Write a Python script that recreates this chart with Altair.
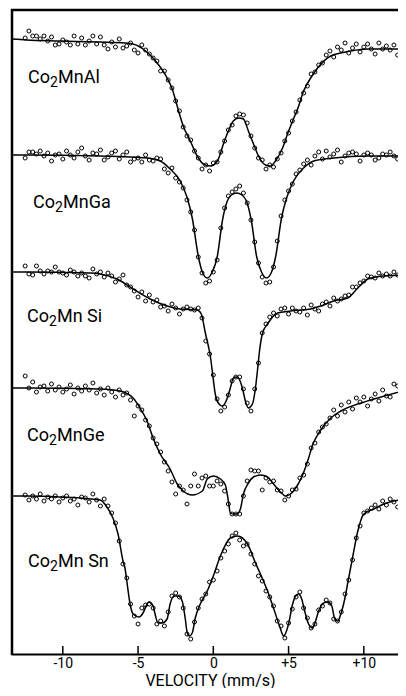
import altair as alt
import pandas as pd

# ---------------- data ----------------
SPECTRA = ["Co2MnAl", "Co2MnGa", "Co2MnSi", "Co2MnGe", "Co2MnSn"]
LABEL_TAIL = ["MnAl", "MnGa", "Mn Si", "MnGe", "Mn Sn"]
LABEL_V = [-12.31, -11.98, -12.38, -12.38, -12.31]
LABEL_Y = [571, 446, 332, 213, 87]
# vertical stacking offsets of each spectrum (arbitrary units)
OFFSETS = [613, 498, 383, 268, 158]
TICKS = [-10, -5, 0, 5, 10]
X_RANGE = [-13.375, 12.27]
Y_RANGE = [0, 644]

# velocity channels of the measured points (mm/s)
VELOCITY = [
    -12.5, -12.25, -12.0, -11.75, -11.5, -11.25, -11.0, -10.75, -10.5, -10.25,
    -10.0, -9.75, -9.5, -9.25, -9.0, -8.75, -8.5, -8.25, -8.0, -7.75,
    -7.5, -7.25, -7.0, -6.75, -6.5, -6.25, -6.0, -5.75, -5.5, -5.25,
    -5.0, -4.75, -4.5, -4.25, -4.0, -3.75, -3.5, -3.25, -3.0, -2.75,
    -2.5, -2.25, -2.0, -1.75, -1.5, -1.25, -1.0, -0.75, -0.5, -0.25,
    0.0, 0.25, 0.5, 0.75, 1.0, 1.25, 1.5, 1.75, 2.0, 2.25,
    2.5, 2.75, 3.0, 3.25, 3.5, 3.75, 4.0, 4.25, 4.5, 4.75,
    5.0, 5.25, 5.5, 5.75, 6.0, 6.25, 6.5, 6.75, 7.0, 7.25,
    7.5, 7.75, 8.0, 8.25, 8.5, 8.75, 9.0, 9.25, 9.5, 9.75,
    10.0, 10.25, 10.5, 10.75, 11.0, 11.25, 11.5, 11.75, 12.0, 12.25,
    12.5, 12.75,
]

# absorption (depth below each spectrum's reference level) of the measured points
AL_PTS = [
    -3, -10, -5, -5, -2, -5, 0, -4, 4, 3,
    -1, 1, 4, -5, 3, -3, 4, 0, -5, 3,
    -4, 4, 8, 1, 6, -2, 7, 5, 2, 9,
    12, 4, 9, 13, 17, 20, 30, 30, 39, 47,
    60, 70, 86, 95, 99, 110, 117, 128, 124, 130,
    122, 121, 111, 100, 89, 84, 75, 73, 74, 82,
    95, 107, 117, 119, 128, 124, 126, 118, 112, 100,
    92, 80, 71, 59, 52, 45, 33, 31, 24, 22,
    14, 10, 16, 6, 9, 2, 12, 7, 3, 11,
    6, 3, 8, 13, 2, 8, 5, 9, 4, 14,
    6, 4,
]
GA_PTS = [
    2, -4, -4, -2, -5, 0, -3, 5, -1, -2,
    3, -5, -1, 2, -4, -8, 0, 4, -3, -2,
    -6, 4, 1, -3, -5, 3, -1, -4, 6, 3,
    2, 6, -1, 4, 5, 2, 3, 13, 17, 12,
    22, 26, 32, 44, 56, 74, 101, 117, 127, 125,
    116, 104, 72, 52, 40, 36, 33, 30, 37, 47,
    64, 86, 107, 121, 127, 126, 111, 85, 60, 44,
    35, 28, 18, 14, 8, 4, 9, 0, -4, 3,
    -5, 1, -2, -6, 6, 0, -3, -4, -2, 5,
    -1, -3, -1, 4, 2, -2, -1, -4, 0, 3,
    -3, 1,
]
SI_PTS = [
    -5, 3, 4, -5, 0, 3, 0, 1, -4, 1,
    2, 4, -1, 1, 5, 2, 5, 7, -2, 3,
    1, 6, 2, 5, 11, 8, 4, 14, 16, 20,
    26, 21, 30, 24, 31, 29, 36, 35, 40, 33,
    37, 43, 38, 36, 38, 39, 37, 47, 70, 83,
    104, 128, 140, 136, 124, 110, 106, 106, 118, 132,
    140, 118, 92, 62, 53, 46, 42, 45, 38, 37,
    43, 37, 40, 41, 37, 44, 34, 38, 40, 33,
    31, 35, 27, 30, 28, 25, 24, 16, 16, 12,
    10, 5, 6, 7, 2, 5, 3, 5, 1, 4,
    2, 5,
]
GE_PTS = [
    -10, 2, -4, 6, 1, 0, 5, -2, 4, 1,
    6, 3, -1, 8, 2, 5, 0, 4, -3, 7,
    3, 9, 2, 6, 11, 4, 9, 7, 14, 30,
    20, 24, 34, 40, 52, 58, 66, 76, 85, 96,
    108, 100, 104, 118, 100, 88, 100, 92, 90, 100,
    100, 95, 98, 105, 118, 128, 128, 128, 110, 95,
    84, 85, 85, 104, 92, 96, 95, 104, 105, 114,
    110, 104, 103, 92, 89, 78, 62, 57, 46, 41,
    38, 32, 24, 30, 19, 26, 16, 23, 12, 16,
    11, 20, 13, 8, 15, 4, 10, 11, -2, 0,
    -10, 2,
]
SN_PTS = [
    -1, 4, 0, 3, -2, 5, 1, 3, 0, 6,
    2, 0, 5, 3, 9, 1, 2, 6, -2, 4,
    10, 3, 10, 17, 27, 45, 68, 82, 108, 120,
    128, 112, 109, 108, 112, 128, 125, 130, 116, 100,
    97, 101, 112, 138, 143, 126, 112, 103, 98, 86,
    84, 75, 62, 55, 48, 40, 37, 44, 50, 48,
    58, 68, 80, 85, 95, 101, 110, 125, 130, 142,
    127, 113, 101, 96, 112, 122, 132, 128, 114, 110,
    104, 107, 123, 125, 116, 98, 84, 64, 42, 30,
    17, 15, 12, 9, 13, 5, 9, 3, 6, 11,
    4, 2,
]

# fitted curves (velocity, absorption)
AL_FIT_V = [-13.35, -12.4, -10.2, -7.53, -5.87, -5.33, -4.87, -4.67, -4.2, -3.73,
            -3.07, -2.73, -2.4, -2.0, -1.53, -1.07, -0.67, -0.2, 0.27, 0.67,
            1.0, 1.33, 1.67, 2.0, 2.33, 2.67, 3.0, 3.47, 3.8, 4.13,
            4.6, 4.93, 5.27, 5.6, 6.0, 6.47, 6.93, 7.8, 9.13, 10.27, 12.8]
AL_FIT_D = [-2, -1, 0, 1, 2, 3, 6, 8, 14, 22,
            37, 48, 65, 85, 100, 115, 123, 125, 120, 103,
            90, 80, 77, 78, 90, 103, 115, 124, 125, 120,
            107, 93, 80, 68, 50, 37, 27, 15, 10, 8, 8]

GA_FIT_V = [-13.35, -12.4, -7.5, -4.4, -3.53, -2.87, -2.2, -1.73, -1.4, -1.0,
            -0.73, -0.4, -0.07, 0.27, 0.6, 0.93, 1.2, 1.55, 1.9, 2.2,
            2.53, 2.87, 3.2, 3.53, 3.87, 4.15, 4.53, 4.87, 5.33, 6.0,
            6.67, 8.0, 10.3, 12.8]
GA_FIT_D = [-1, -1, 0, 2, 5, 13, 25, 42, 62, 100,
            116, 122, 116, 100, 65, 45, 39, 37, 39, 45,
            65, 100, 116, 122, 116, 100, 62, 42, 25, 12,
            5, 2, 0, 0]

SI_FIT_V = [-13.35, -12.4, -8.2, -7.53, -6.4, -5.33, -4.2, -3.07, -2.2, -1.07,
            -0.8, -0.53, -0.33, -0.2, -0.07, 0.13, 0.33, 0.6, 0.93, 1.13,
            1.33, 1.5, 1.67, 1.93, 2.13, 2.33, 2.6, 2.8, 2.93, 3.07,
            3.27, 3.6, 4.27, 5.13, 6.47, 7.13, 8.0, 8.93, 9.6, 10.27,
            11.33, 12.8]
SI_FIT_D = [1, 1, 2, 3, 8, 18, 28, 35, 38, 39,
            43, 62, 75, 85, 100, 123, 132, 135, 127, 117,
            107, 106, 107, 117, 130, 137, 133, 117, 100, 80,
            62, 53, 42, 40, 38, 35, 30, 27, 17, 8,
            5, 4]

GE_FIT_V = [-13.35, -12.4, -7.53, -6.2, -5.33, -4.87, -4.4, -4.0, -3.53, -2.87,
            -2.4, -2.0, -1.4, -0.73, -0.4, 0.0, 0.47, 0.8, 1.0, 1.13,
            1.33, 1.53, 1.67, 1.8, 2.0, 2.33, 2.67, 3.13, 3.6, 4.0,
            4.6, 4.8, 5.13, 5.56, 5.96, 6.29, 6.62, 7.09, 7.8, 8.47,
            9.6, 10.67, 12.8]
GE_FIT_D = [2, 2, 3, 5, 12, 22, 35, 52, 68, 83,
            98, 105, 109, 105, 93, 90, 93, 99, 115, 127,
            128, 128, 127, 123, 108, 97, 91, 89, 91, 98,
            108, 110, 108, 100, 88, 74, 58, 45, 32, 25,
            18, 13, 4]

SN_FIT_V = [-13.35, -12.4, -10.2, -7.53, -7.07, -6.67, -6.33, -6.0, -5.87, -5.73,
            -5.53, -5.33, -4.93, -4.67, -4.4, -4.27, -4.0, -3.87, -3.67, -3.4,
            -3.07, -2.87, -2.6, -2.33, -2.07, -1.87, -1.73, -1.6, -1.4, -1.2,
            -0.87, -0.4, 0.0, 0.47, 1.13, 1.6, 2.27, 2.8, 3.13, 3.6,
            4.0, 4.4, 4.67, 5.0, 5.27, 5.47, 5.67, 5.87, 6.07, 6.33,
            6.6, 6.73, 7.0, 7.33, 7.6, 7.87, 8.07, 8.27, 8.47, 8.8,
            8.93, 9.27, 9.6, 10.0, 10.67, 11.33, 12.8]
SN_FIT_D = [0, 0, 1, 4, 11, 22, 38, 65, 72, 87,
            108, 118, 121, 117, 108, 106, 110, 118, 127, 127,
            123, 108, 100, 100, 105, 122, 137, 140, 137, 122,
            108, 95, 80, 60, 42, 40, 48, 67, 78, 95,
            112, 130, 140, 128, 108, 100, 98, 103, 115, 128,
            132, 128, 115, 107, 106, 110, 123, 125, 118, 98,
            87, 60, 35, 18, 13, 8, 3]

PTS = [AL_PTS, GA_PTS, SI_PTS, GE_PTS, SN_PTS]
FIT_V = [AL_FIT_V, GA_FIT_V, SI_FIT_V, GE_FIT_V, SN_FIT_V]
FIT_D = [AL_FIT_D, GA_FIT_D, SI_FIT_D, GE_FIT_D, SN_FIT_D]

# ---------------- tables ----------------
pts_rows, fit_rows = [], []
for name, off, pts, fv, fd in zip(SPECTRA, OFFSETS, PTS, FIT_V, FIT_D):
    for v, d in zip(VELOCITY, pts):
        pts_rows.append({"spectrum": name, "velocity": v, "signal": off - d})
    for v, d in zip(fv, fd):
        fit_rows.append({"spectrum": name, "velocity": v, "signal": off - d})
pts_df = pd.DataFrame(pts_rows)
fit_df = pd.DataFrame(fit_rows)
lab_df = pd.DataFrame({"velocity": LABEL_V, "signal": LABEL_Y, "tail": LABEL_TAIL})
tick_df = pd.DataFrame({"velocity": TICKS})
# frame outline: left side and top side of the plotting box
frame_df = pd.DataFrame({
    "velocity": [X_RANGE[0], X_RANGE[0], X_RANGE[1]],
    "signal": [Y_RANGE[0], Y_RANGE[1], Y_RANGE[1]],
    "order": [0, 1, 2],
})

FONT = "Roboto"
# the visible window is cropped at the right, like the reference
x_scale = alt.Scale(domain=X_RANGE, nice=False, zero=False)
y_scale = alt.Scale(domain=Y_RANGE, nice=False, zero=False)
x_axis = alt.Axis(
    values=TICKS,
    labelExpr="datum.value > 0 ? '+' + datum.value : '' + datum.value",
    ticks=False, tickSize=0, grid=False,
    domain=True, domainColor="black", domainWidth=2,
    labelFont=FONT, labelFontSize=14, labelColor="black", labelPadding=2,
    labelFlush=False,
    title="VELOCITY (mm/s)", titleFont=FONT, titleFontSize=16,
    titleFontWeight="normal", titleColor="black", titlePadding=2,
    titleX=198, titleAlign="center",
)
X = alt.X("velocity:Q", scale=x_scale, axis=x_axis)
Y = alt.Y("signal:Q", scale=y_scale, axis=None)

frame = alt.Chart(frame_df).mark_line(
    color="black", strokeWidth=2.5, strokeCap="square", clip=False
).encode(x=X, y=Y, order="order:Q")
ticks = alt.Chart(tick_df).mark_rule(color="black", strokeWidth=1.5).encode(
    x=X, y=alt.value(644), y2=alt.value(636))

fit = alt.Chart(fit_df).mark_line(
    interpolate="monotone", color="black", strokeWidth=1.5, clip=True
).encode(x=X, y=Y, detail="spectrum:N")

pts = alt.Chart(pts_df).mark_point(
    shape="circle", filled=False, size=16, color="black", strokeWidth=1,
    opacity=1, clip=True
).encode(x=X, y=Y)

lab = alt.Chart(lab_df)
co = lab.mark_text(text="Co", align="left", baseline="alphabetic", font=FONT,
                   fontSize=18, color="black").encode(x=X, y=Y)
sub = lab.mark_text(text="2", align="left", baseline="alphabetic", font=FONT,
                    fontSize=14, color="black", dx=22, dy=4).encode(x=X, y=Y)
tail = lab.mark_text(align="left", baseline="alphabetic", font=FONT,
                     fontSize=18, color="black", dx=30).encode(x=X, y=Y, text="tail:N")

chart = alt.layer(frame, ticks, fit, pts, co, sub, tail).properties(
    width=386, height=644,
    padding={"left": 4, "top": 2, "right": 0, "bottom": 34},
    autosize=alt.AutoSizeParams(type="none"),
    background="white",
).configure_view(stroke=None)

chart.save("out.html", embed_options={"renderer": "svg", "actions": False})
